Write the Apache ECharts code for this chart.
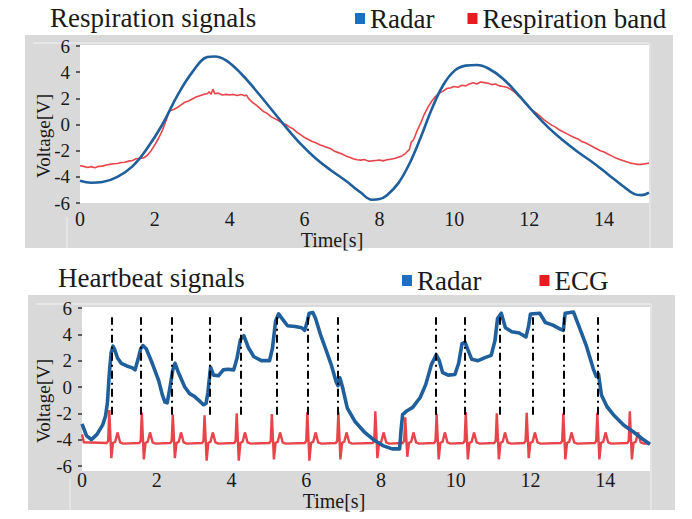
<!DOCTYPE html>
<html>
<head>
<meta charset="utf-8">
<script src="https://cdn.jsdelivr.net/npm/echarts@6/dist/echarts.min.js"></script>
<style>html,body{margin:0;padding:0;background:#fff;}#c{width:692px;height:519px;}</style>
</head>
<body>
<div id="c"></div>
<script>
// ---------- data ----------
var xTicks = [0, 2, 4, 6, 8, 10, 12, 14];
var yTicks = [-6, -4, -2, 0, 2, 4, 6];

var respRadar = [[0.0,-4.3],[0.3,-4.45],[0.6,-4.4],[1.0,-4.0],[1.4,-3.2],[1.8,-1.8],[2.2,0.0],[2.6,2.2],[3.0,4.0],[3.4,5.15],[3.6,5.2],[3.9,4.9],[4.3,3.9],[4.7,2.6],[5.1,1.2],[5.5,-0.2],[5.9,-1.5],[6.3,-2.6],[6.7,-3.5],[7.1,-4.3],[7.5,-5.2],[7.8,-5.75],[8.0,-5.7],[8.2,-5.4],[8.5,-4.5],[8.8,-3.0],[9.1,-1.0],[9.4,1.2],[9.7,3.0],[10.0,4.1],[10.3,4.5],[10.6,4.55],[10.9,4.3],[11.3,3.5],[11.7,2.3],[12.1,1.0],[12.5,-0.2],[12.9,-1.2],[13.3,-2.1],[13.7,-2.9],[14.1,-3.8],[14.5,-4.7],[14.8,-5.3],[15.0,-5.4],[15.2,-5.2]];

var respBand = [[0.0,-3.15],[0.1,-3.2],[0.2,-3.28],[0.3,-3.22],[0.4,-3.3],[0.5,-3.2],[0.6,-3.18],[0.7,-3.1],[0.8,-3.05],[0.9,-3.0],[1.0,-2.98],[1.1,-2.9],[1.2,-2.88],[1.3,-2.8],[1.4,-2.75],[1.5,-2.62],[1.6,-2.6],[1.7,-2.55],[1.8,-2.35],[1.9,-2.0],[2.0,-1.55],[2.1,-1.05],[2.2,-0.45],[2.3,0.3],[2.35,0.75],[2.4,1.05],[2.5,1.15],[2.6,1.3],[2.7,1.5],[2.8,1.7],[2.9,1.8],[3.0,1.95],[3.1,2.1],[3.2,2.2],[3.3,2.3],[3.4,2.35],[3.45,2.5],[3.5,2.3],[3.55,2.7],[3.6,2.35],[3.7,2.4],[3.8,2.25],[3.9,2.3],[4.0,2.25],[4.1,2.3],[4.2,2.22],[4.3,2.3],[4.4,2.2],[4.45,2.25],[4.5,2.0],[4.6,1.7],[4.7,1.5],[4.8,1.25],[4.9,1.0],[5.0,0.85],[5.1,0.6],[5.2,0.45],[5.3,0.3],[5.4,0.1],[5.5,0.0],[5.6,-0.2],[5.7,-0.35],[5.8,-0.6],[5.9,-0.8],[6.0,-1.0],[6.1,-1.15],[6.2,-1.3],[6.3,-1.4],[6.4,-1.55],[6.5,-1.65],[6.6,-1.75],[6.7,-1.85],[6.8,-2.05],[6.9,-2.15],[7.0,-2.25],[7.1,-2.4],[7.2,-2.5],[7.3,-2.62],[7.4,-2.7],[7.5,-2.72],[7.6,-2.68],[7.7,-2.8],[7.8,-2.78],[7.9,-2.75],[8.0,-2.72],[8.1,-2.78],[8.2,-2.7],[8.3,-2.65],[8.4,-2.6],[8.5,-2.5],[8.6,-2.4],[8.7,-2.2],[8.8,-1.9],[8.85,-1.35],[8.9,-1.2],[8.95,-0.9],[9.0,-0.5],[9.1,0.1],[9.2,0.8],[9.3,1.35],[9.4,1.8],[9.5,2.15],[9.6,2.4],[9.7,2.55],[9.8,2.75],[9.9,2.8],[10.0,2.9],[10.1,2.85],[10.2,3.0],[10.3,2.95],[10.4,3.1],[10.5,3.2],[10.6,3.1],[10.7,3.25],[10.8,3.2],[10.9,3.15],[11.0,3.05],[11.1,3.1],[11.2,2.95],[11.3,2.9],[11.4,2.85],[11.5,2.7],[11.6,2.5],[11.7,2.2],[11.8,1.95],[11.9,1.6],[12.0,1.3],[12.1,1.05],[12.2,0.85],[12.3,0.6],[12.4,0.35],[12.5,0.15],[12.6,-0.05],[12.7,-0.2],[12.8,-0.4],[12.9,-0.55],[13.0,-0.7],[13.1,-0.85],[13.2,-1.0],[13.3,-1.1],[13.4,-1.3],[13.5,-1.4],[13.6,-1.55],[13.7,-1.7],[13.8,-1.85],[13.9,-2.0],[14.0,-2.1],[14.1,-2.25],[14.2,-2.4],[14.3,-2.55],[14.4,-2.65],[14.5,-2.75],[14.6,-2.85],[14.7,-2.95],[14.8,-3.0],[14.9,-3.05],[15.0,-3.05],[15.1,-3.0],[15.2,-2.95]];

var hbRadar = [[0.0,-2.8],[0.12,-3.7],[0.25,-4.0],[0.4,-3.6],[0.55,-2.9],[0.63,-2.2],[0.68,-1.2],[0.73,1.0],[0.78,2.6],[0.83,3.1],[0.88,2.8],[0.95,2.2],[1.05,1.8],[1.2,1.6],[1.35,1.45],[1.42,1.3],[1.5,2.1],[1.57,2.9],[1.63,3.15],[1.72,2.9],[1.88,1.8],[2.05,0.5],[2.15,-0.6],[2.22,-1.15],[2.28,-1.2],[2.35,-0.1],[2.43,1.3],[2.49,1.8],[2.58,1.1],[2.75,0.0],[2.88,-0.5],[3.0,-0.7],[3.12,-1.0],[3.25,-1.35],[3.32,-1.25],[3.37,-0.4],[3.44,1.5],[3.52,0.9],[3.65,0.85],[3.78,1.3],[3.9,1.35],[4.06,1.3],[4.15,2.2],[4.24,3.6],[4.33,3.9],[4.45,3.0],[4.6,2.3],[4.8,2.0],[5.02,2.0],[5.1,3.0],[5.18,5.0],[5.26,5.55],[5.38,5.1],[5.5,4.65],[5.7,4.6],[5.88,4.5],[5.96,4.3],[6.03,5.0],[6.08,5.6],[6.18,5.65],[6.25,5.2],[6.38,4.0],[6.52,2.9],[6.68,1.6],[6.8,0.4],[6.85,0.1],[6.9,0.7],[6.97,0.0],[7.1,-1.6],[7.3,-2.6],[7.55,-3.4],[7.8,-4.0],[8.05,-4.45],[8.3,-4.7],[8.5,-4.7],[8.54,-3.2],[8.58,-2.1],[8.7,-1.8],[8.85,-1.55],[9.05,-0.8],[9.2,0.2],[9.35,1.7],[9.48,2.45],[9.56,2.0],[9.65,1.1],[9.8,0.9],[9.98,0.95],[10.08,1.8],[10.17,3.3],[10.25,3.4],[10.33,2.8],[10.43,2.1],[10.6,2.0],[10.8,2.25],[10.95,2.4],[11.05,3.5],[11.12,5.2],[11.22,5.6],[11.33,4.5],[11.5,4.2],[11.7,4.1],[11.88,3.8],[11.95,4.6],[12.0,5.55],[12.25,5.6],[12.4,4.9],[12.6,4.7],[12.8,4.4],[12.88,4.3],[12.93,5.6],[13.15,5.7],[13.3,4.6],[13.5,3.1],[13.68,1.4],[13.76,0.8],[13.82,1.0],[13.9,-0.6],[14.05,-1.5],[14.22,-2.1],[14.5,-2.9],[14.75,-3.4],[15.0,-3.95],[15.2,-4.35]];

// ECG: R-peak times, R heights and S depths read per beat; beat shape offsets/levels read from one beat
var ecgBeatTimes = [0.73,1.6,2.43,3.28,4.14,5.08,6.03,6.86,7.85,8.65,9.49,10.27,11.1,11.9,12.88,13.79,14.66];
var ecgPeaks  = [-1.75,-1.95,-2.1,-2.15,-2.0,-2.05,-1.9,-1.9,-1.85,-2.3,-2.05,-1.9,-2.0,-1.95,-2.0,-1.95,-1.85];
var ecgTroughs = [-5.4,-5.5,-5.4,-5.6,-5.6,-5.5,-5.6,-5.5,-5.4,-5.3,-5.5,-5.5,-5.5,-5.4,-5.5,-5.5,-5.5];
var ecgShapeDt = [-0.07, -0.03, 0.0, 0.055, 0.1, 0.16, 0.22, 0.29, 0.37];
var ecgShapeV  = [-4.25, -4.1, null, null, -4.25, -4.15, -3.45, -4.2, -4.3];
var ecgStart = [[0.0,-3.6],[0.05,-4.2]];
var ecgEnd = [[15.2,-4.3]];

// dash-dot marker lines (time, from..to voltage)
var markerTimes = [0.79,1.56,2.4,3.41,4.24,5.2,6.03,6.84,9.47,10.23,11.19,12.05,12.88,13.79];
var markerRange = [-2.1, 5.3];

// ---------- build ----------
var ecg = ecgStart.slice();
for (var i = 0; i < ecgBeatTimes.length; i++) {
  for (var k = 0; k < ecgShapeDt.length; k++) {
    var v = ecgShapeV[k];
    if (k === 2) v = ecgPeaks[i];
    if (k === 3) v = ecgTroughs[i];
    ecg.push([Math.round((ecgBeatTimes[i] + ecgShapeDt[k]) * 1000) / 1000, v]);
  }
}
ecg = ecg.concat(ecgEnd);

var FONT = 'Liberation Serif, Times New Roman, serif';
var TXT = '#1a1a1a';
var BLUE = '#1f5f9c';
var RED = '#e8454a';

function xAxisCfg(gi, margin) {
  return {
    gridIndex: gi, type: 'value', min: 0, max: 15.2, interval: 2,
    axisLine: {show: false}, axisTick: {show: false}, splitLine: {show: false},
    axisLabel: {color: TXT, fontFamily: FONT, fontSize: 20, margin: margin, showMaxLabel: false,
      formatter: function (v) { return xTicks.indexOf(v) >= 0 ? String(v) : ''; }}
  };
}
function yAxisCfg(gi) {
  return {
    gridIndex: gi, type: 'value', min: -6, max: 6, interval: 2,
    axisLine: {show: true, lineStyle: {color: 'rgba(0,0,0,0)', width: 0}},
    axisTick: {show: true, length: 4, inside: false, lineStyle: {color: '#333', width: 1.5}},
    splitLine: {show: false},
    axisLabel: {color: TXT, fontFamily: FONT, fontSize: 19, margin: 10,
      formatter: function (v) { return yTicks.indexOf(v) >= 0 ? String(v) : ''; }}
  };
}

var chart = echarts.init(document.getElementById('c'), null, {renderer: 'svg', width: 692, height: 519});

var option = {
  backgroundColor: '#ffffff',
  animation: false,
  grid: [
    {left: 80, top: 46, width: 569, height: 157},
    {left: 82, top: 308, width: 568, height: 158}
  ],
  xAxis: [xAxisCfg(0, 6), xAxisCfg(1, 4)],
  yAxis: [yAxisCfg(0), yAxisCfg(1)],
  legend: [
    {left: 350, top: 0, itemWidth: 10, itemHeight: 11, itemGap: 33, icon: 'rect', selectedMode: false,
     textStyle: {fontFamily: FONT, fontSize: 27, color: TXT},
     data: [{name: 'Radar', itemStyle: {color: '#1a70c2'}}, {name: 'Respiration band', itemStyle: {color: '#e81c20'}}]},
    {left: 397, top: 262, itemWidth: 10, itemHeight: 11, itemGap: 58, icon: 'rect', selectedMode: false,
     textStyle: {fontFamily: FONT, fontSize: 27, color: TXT},
     data: [{name: 'Radar', itemStyle: {color: '#1a70c2'}}, {name: 'ECG', itemStyle: {color: '#e81c20'}}]}
  ],
  graphic: [
    {type: 'rect', z: -10, shape: {x: 25, y: 35, width: 648, height: 213}, style: {fill: '#d9d9d9'}},
    {type: 'rect', z: -10, shape: {x: 28, y: 295, width: 647, height: 215}, style: {fill: '#d9d9d9'}},
    {type: 'line', z: -9, shape: {x1: 33, y1: 43, x2: 649, y2: 43}, style: {stroke: '#e6e6e6', lineWidth: 2}},
    {type: 'line', z: -9, shape: {x1: 67, y1: 217, x2: 67, y2: 248}, style: {stroke: '#e6e6e6', lineWidth: 1.5}},
    {type: 'line', z: -9, shape: {x1: 650, y1: 43, x2: 650, y2: 248}, style: {stroke: '#e6e6e6', lineWidth: 1.5}},
    {type: 'line', z: -9, shape: {x1: 36, y1: 304, x2: 651, y2: 304}, style: {stroke: '#e6e6e6', lineWidth: 2}},
    {type: 'line', z: -9, shape: {x1: 70, y1: 478, x2: 70, y2: 510}, style: {stroke: '#e6e6e6', lineWidth: 1.5}},
    {type: 'line', z: -9, shape: {x1: 651, y1: 304, x2: 651, y2: 510}, style: {stroke: '#e6e6e6', lineWidth: 1.5}},
    {type: 'rect', z: -8, shape: {x: 80, y: 45, width: 569, height: 158}, style: {fill: '#ffffff'}},
    {type: 'rect', z: -8, shape: {x: 82, y: 307, width: 568, height: 164}, style: {fill: '#ffffff'}},
    {type: 'text', z: 10, x: 50, y: 18, style: {text: 'Respiration signals', font: '27px ' + FONT, fill: TXT, textVerticalAlign: 'middle'}},
    {type: 'text', z: 10, x: 58, y: 278, style: {text: 'Heartbeat signals', font: '27px ' + FONT, fill: TXT, textVerticalAlign: 'middle'}},
    {type: 'text', z: 10, x: 332, y: 240, style: {text: 'Time[s]', font: '20px ' + FONT, fill: TXT, textAlign: 'center', textVerticalAlign: 'middle'}},
    {type: 'text', z: 10, x: 334, y: 501, style: {text: 'Time[s]', font: '20px ' + FONT, fill: TXT, textAlign: 'center', textVerticalAlign: 'middle'}},
    {type: 'text', z: 10, x: 43, y: 136, rotation: Math.PI / 2, style: {text: 'Voltage[V]', font: '19px ' + FONT, fill: TXT, textAlign: 'center', textVerticalAlign: 'middle'}},
    {type: 'text', z: 10, x: 43, y: 401, rotation: Math.PI / 2, style: {text: 'Voltage[V]', font: '19px ' + FONT, fill: TXT, textAlign: 'center', textVerticalAlign: 'middle'}}
  ],
  series: [
    {name: 'Respiration band', type: 'line', xAxisIndex: 0, yAxisIndex: 0, data: respBand, showSymbol: false,
     lineStyle: {color: RED, width: 1.6}, itemStyle: {color: RED}, z: 2},
    {name: 'Radar', type: 'line', xAxisIndex: 0, yAxisIndex: 0, data: respRadar, showSymbol: false, smooth: 0.4,
     lineStyle: {color: BLUE, width: 2.6}, itemStyle: {color: BLUE}, z: 3},
    {name: 'ECG', type: 'line', xAxisIndex: 1, yAxisIndex: 1, data: ecg, showSymbol: false,
     lineStyle: {color: RED, width: 2.4, join: 'miter'}, itemStyle: {color: RED}, z: 2},
    {name: 'Radar', type: 'line', xAxisIndex: 1, yAxisIndex: 1, data: hbRadar, showSymbol: false,
     lineStyle: {color: BLUE, width: 3.6, join: 'round'}, itemStyle: {color: BLUE}, z: 3},
    {name: 'markers', type: 'line', xAxisIndex: 1, yAxisIndex: 1, data: [], z: 4,
     markLine: {silent: true, symbol: ['none', 'none'], label: {show: false},
       lineStyle: {color: '#000', width: 2, type: [8, 4, 2, 4]},
       data: markerTimes.map(function (t) { return [{coord: [t, markerRange[0]]}, {coord: [t, markerRange[1]]}]; })}}
  ]
};
chart.setOption(option);
</script>
</body>
</html>
